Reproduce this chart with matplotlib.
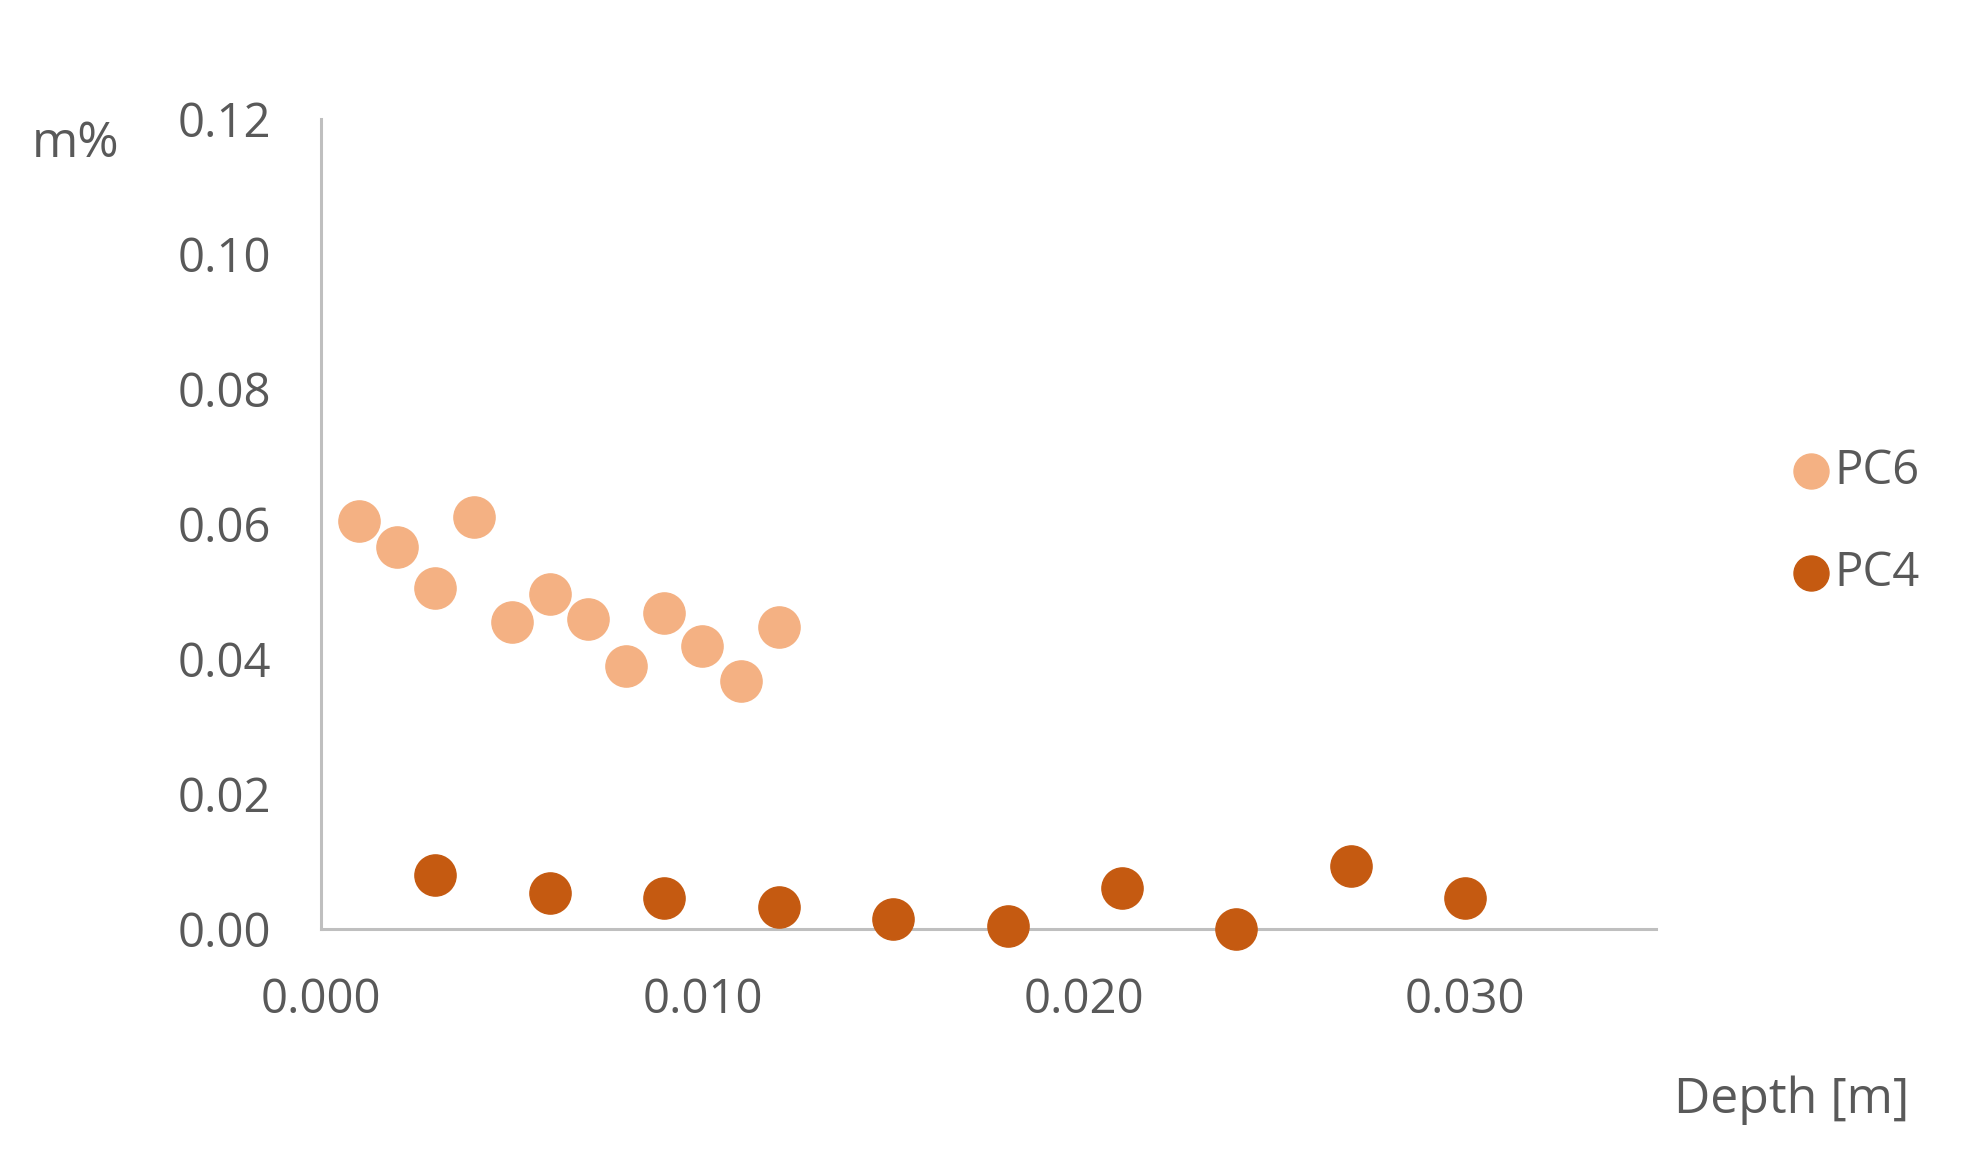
import matplotlib.pyplot as plt

# depth [m] and m%
pc6_depth = [0.001, 0.002, 0.003, 0.004, 0.005, 0.006, 0.007, 0.008, 0.009, 0.010, 0.011, 0.012]
pc6_val = [0.0604, 0.0566, 0.0505, 0.0611, 0.0455, 0.0496, 0.0459, 0.0390, 0.0468, 0.0420, 0.0368, 0.0448]
pc4_depth = [0.003, 0.006, 0.009, 0.012, 0.015, 0.018, 0.021, 0.024, 0.027, 0.030]
pc4_val = [0.0080, 0.0054, 0.0046, 0.0032, 0.0015, 0.0004, 0.0061, 0.0000, 0.0093, 0.0046]

x_ticks = [0.000, 0.010, 0.020, 0.030]
y_ticks = [0.00, 0.02, 0.04, 0.06, 0.08, 0.10, 0.12]

plt.rcParams['font.family'] = ['Open Sans', 'DejaVu Sans']
txt = '#595959'

fig = plt.figure(figsize=(19.66, 11.55), dpi=100)
W, H = 1966, 1155
# axes box in pixels: left 321, right 1656, bottom 929, top 119
ax = fig.add_axes([321 / W, 1 - 929 / H, (1656 - 321) / W, (929 - 119) / H])

ax.scatter(pc6_depth, pc6_val, s=880, color='#F4B183', label='PC6', clip_on=False, zorder=3)
ax.scatter(pc4_depth, pc4_val, s=880, color='#C55A11', label='PC4', clip_on=False, zorder=3)

ax.set_xlim(0, 0.035)
ax.set_ylim(0, 0.12)
ax.set_xticks(x_ticks)
ax.set_xticklabels(['%.3f' % v for v in x_ticks])
ax.set_yticks(y_ticks)
ax.set_yticklabels(['%.2f' % v for v in y_ticks])
ax.tick_params(length=0, labelsize=34, colors=txt)
ax.tick_params(axis='y', pad=36)
ax.tick_params(axis='x', pad=34)

for s in ['top', 'right']:
    ax.spines[s].set_visible(False)
for s in ['left', 'bottom']:
    ax.spines[s].set_color('#BFBFBF')
    ax.spines[s].set_linewidth(2.2)

fig.text(76 / W, 1 - 144 / H, 'm%', fontsize=36, color=txt, ha='center', va='center')
fig.text(1792 / W, 1 - 1100 / H, 'Depth [m]', fontsize=36, color=txt, ha='center', va='center')

handles, labels = ax.get_legend_handles_labels()
fig.legend(handles, labels, loc='center left', bbox_to_anchor=(1740 / W, 1 - 522 / H),
           frameon=False, fontsize=34, labelcolor=txt, markerscale=0.85,
           handletextpad=-0.1, labelspacing=1.15, handlelength=1.2)

fig.savefig('out.png', dpi=100, facecolor='white')
